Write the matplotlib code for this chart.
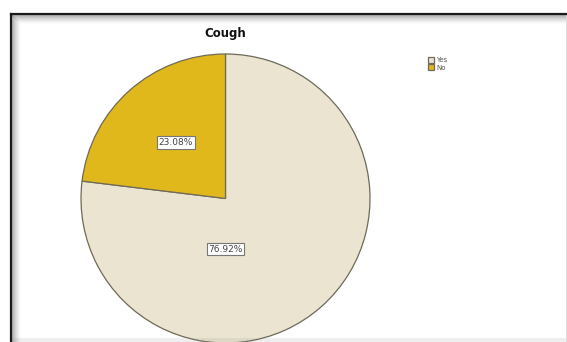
import matplotlib
matplotlib.use('Agg')
import matplotlib.pyplot as plt
from matplotlib.lines import Line2D

# データ
labels = ['Yes', 'No']
values = [76.92, 23.08]
colors = ['#EAE4D0', '#E0B81C']
title = 'Cough'

W, H = 567, 342
fig = plt.figure(figsize=(W / 100, H / 100), dpi=100)
fig.patch.set_facecolor('white')

# 外枠 (内側に影のグラデーション)
def px_line(x0, y0, x1, y1, color, lw=1.0, alpha=1.0):
    fig.add_artist(Line2D([x0 / W, x1 / W], [1 - y0 / H, 1 - y1 / H],
                          transform=fig.transFigure, color=color,
                          lw=lw, alpha=alpha))

for i in range(9):
    a = 0.45 * (1 - i / 9) ** 1.5
    px_line(12 + i, 15 + i, 12 + i, H, '#555555', lw=0.75, alpha=a)
    px_line(12 + i, 15 + i, W - 2, 15 + i, '#555555', lw=0.75, alpha=a)
for i in range(4):
    px_line(12, H - 1 - i, W - 2, H - 1 - i, '#888888', lw=0.75, alpha=0.12)
px_line(W - 1.5, 14, W - 1.5, H, '#dddddd', lw=0.75)
px_line(10.5, 13.5, 10.5, H, '#1a1a1a', lw=1.6)
px_line(10.5, 13.5, W - 1, 13.5, '#1a1a1a', lw=1.6)

# 円グラフ
r = 144.5
cx, cy = 225.5, 198.5
ax = fig.add_axes([(cx - r) / W, (H - cy - r) / H, 2 * r / W, 2 * r / H])
wedges, texts, autotexts = ax.pie(
    values, colors=colors, startangle=90, counterclock=False,
    autopct='%.2f%%', pctdistance=0.52,
    wedgeprops=dict(edgecolor='#6e6a58', linewidth=0.9),
    textprops=dict(fontsize=6.5, color='#444444'))
ax.set_xlim(-1, 1)
ax.set_ylim(-1, 1)
ax.set_aspect('auto')
ax.axis('off')

# Yesのラベル位置を調整
autotexts[0].set_position((0.0, -0.35))
for t in autotexts:
    t.set_bbox(dict(boxstyle='square,pad=0.2', facecolor='white',
                    edgecolor='#777777', linewidth=0.8))

fig.text(cx / W, 1 - 33 / H, title, ha='center', va='center',
         fontsize=8.5, fontweight='bold', color='#111111')

# 凡例
leg = fig.legend(wedges, labels, loc='upper left',
                 bbox_to_anchor=(428 / W, 1 - 57 / H),
                 frameon=False, fontsize=5, handlelength=0.9,
                 handleheight=0.9, handletextpad=0.3, labelspacing=0.15,
                 borderpad=0, borderaxespad=0)
for t in leg.get_texts():
    t.set_color('#555555')

fig.savefig('out.png', dpi=100, facecolor='white')
